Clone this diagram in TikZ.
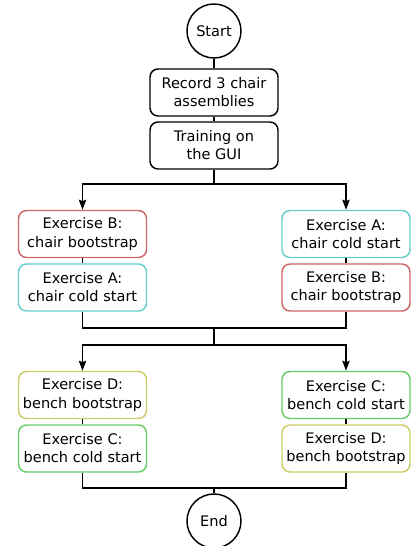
\documentclass[tikz,border=0pt]{standalone}
\usepackage{fontspec}
\setmainfont{DejaVu Sans}
\usetikzlibrary{arrows.meta}
\definecolor{cred}{HTML}{CC6666}
\definecolor{ccyan}{HTML}{66CCCC}
\definecolor{cyel}{HTML}{CCCC66}
\definecolor{cgreen}{HTML}{66CC66}
\begin{document}
\begin{tikzpicture}[x=0.75pt,y=-0.75pt,
  every node/.style={font=\fontsize{10.9pt}{13.6pt}\selectfont, align=center, inner sep=0pt},
  term/.style={circle, draw=black, line width=1.1pt, minimum size=40.5pt},
  proc/.style={rounded corners=6pt, draw=black, line width=1.1pt, minimum width=96pt, minimum height=35.25pt},
  exA/.style={proc, draw=ccyan},
  exB/.style={proc, draw=cred},
  exC/.style={proc, draw=cgreen},
  exD/.style={proc, draw=cyel},
  conn/.style={line width=1.1pt, draw=black},
  arr/.style={conn, -{Stealth[length=7.5pt,width=5.5pt,inset=1pt]}}]
\useasboundingbox (0,0) rectangle (411,546);
\node[term] (start) at (214,31) {Start};
\node[proc] (rec) at (214,92.5) {Record 3 chair\\assemblies};
\node[proc] (train) at (214,145.5) {Training on\\the GUI};
\node[exB] (l1) at (82.5,234) {Exercise B:\\chair bootstrap};
\node[exA] (l2) at (82.5,287.5) {Exercise A:\\chair cold start};
\node[exA] (r1) at (346,234) {Exercise A:\\chair cold start};
\node[exB] (r2) at (346,287.5) {Exercise B:\\chair bootstrap};
\node[exD] (l3) at (82.5,395) {Exercise D:\\bench bootstrap};
\node[exC] (l4) at (82.5,448.5) {Exercise C:\\bench cold start};
\node[exC] (r3) at (346,395) {Exercise C:\\bench cold start};
\node[exD] (r4) at (346,448.5) {Exercise D:\\bench bootstrap};
\node[term] (end) at (214,521) {End};
\coordinate (s1) at (214,184);
\coordinate (m1) at (214,328);
\coordinate (s2) at (214,345);
\coordinate (m2) at (214,488);
\draw[conn] (start) -- (rec);
\draw[conn] (rec) -- (train);
\draw[conn] (train) -- (s1);
\draw[arr] (s1) -| (l1);
\draw[arr] (s1) -| (r1);
\draw[conn] (l1) -- (l2);
\draw[conn] (r1) -- (r2);
\draw[conn] (l2) |- (m1) -| (r2);
\draw[conn] (m1) -- (s2);
\draw[arr] (s2) -| (l3);
\draw[arr] (s2) -| (r3);
\draw[conn] (l3) -- (l4);
\draw[conn] (r3) -- (r4);
\draw[conn] (l4) |- (m2) -| (r4);
\draw[conn] (m2) -- (end);
\end{tikzpicture}
\end{document}
